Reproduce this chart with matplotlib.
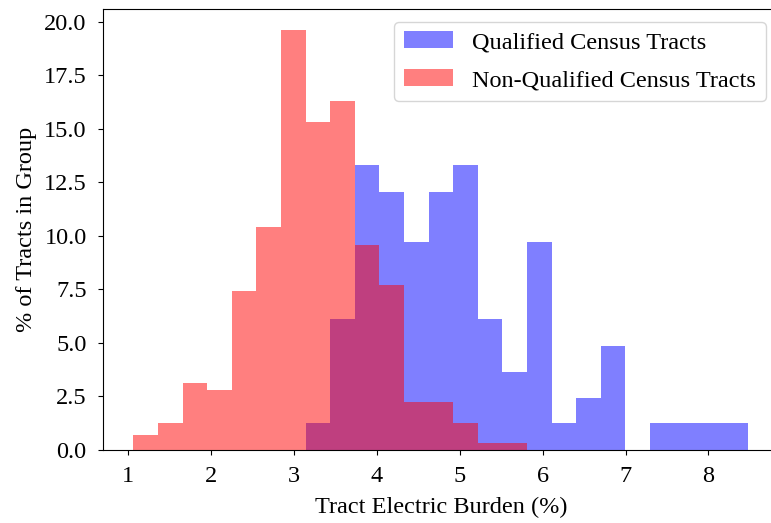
import numpy as np
import matplotlib
matplotlib.use("Agg")
import matplotlib.pyplot as plt

plt.rcParams["font.family"] = ["Liberation Serif", "DejaVu Serif"]

# shared bin edges (25 bins)
bin_lo = 1.067
bin_hi = 8.48
n_bins = 25

# % of tracts per bin
qualified_start = 7  # first non-empty bin
qualified_pct = [1.25, 6.1, 13.3, 12.05, 9.7, 12.05, 13.3, 6.1, 3.65,
                 9.7, 1.25, 2.45, 4.85, 0.0, 1.25, 1.25, 1.25, 1.25]
nonqualified_pct = [0.68, 1.28, 3.15, 2.8, 7.43, 10.43, 19.6, 15.34, 16.29,
                    9.58, 7.71, 2.23, 2.23, 1.28, 0.31, 0.31]

edges = np.linspace(bin_lo, bin_hi, n_bins + 1)
centers = (edges[:-1] + edges[1:]) / 2

q_w = np.zeros(n_bins)
q_w[qualified_start:qualified_start + len(qualified_pct)] = qualified_pct
nq_w = np.zeros(n_bins)
nq_w[:len(nonqualified_pct)] = nonqualified_pct

fs = 17.5

fig = plt.figure(figsize=(7.71, 5.23), dpi=100)
ax = fig.add_axes([102.7 / 771, 73 / 523, 676.3 / 771, 440.7 / 523])

ax.hist(centers, bins=edges, weights=q_w, color="blue", alpha=0.5,
        label="Qualified Census Tracts")
ax.hist(centers, bins=edges, weights=nq_w, color="red", alpha=0.5,
        label="Non-Qualified Census Tracts")

ax.set_xlabel("Tract Electric Burden (%)", fontsize=fs, labelpad=7)
ax.set_ylabel("% of Tracts in Group", fontsize=fs, labelpad=5)
ax.tick_params(labelsize=fs, pad=8)
ax.legend(fontsize=fs, loc="upper right", borderaxespad=0, labelspacing=0.65,
          bbox_to_anchor=(765.7 / 771, 1 - 21.7 / 523),
          bbox_transform=fig.transFigure)

fig.savefig("out.png", dpi=100)
